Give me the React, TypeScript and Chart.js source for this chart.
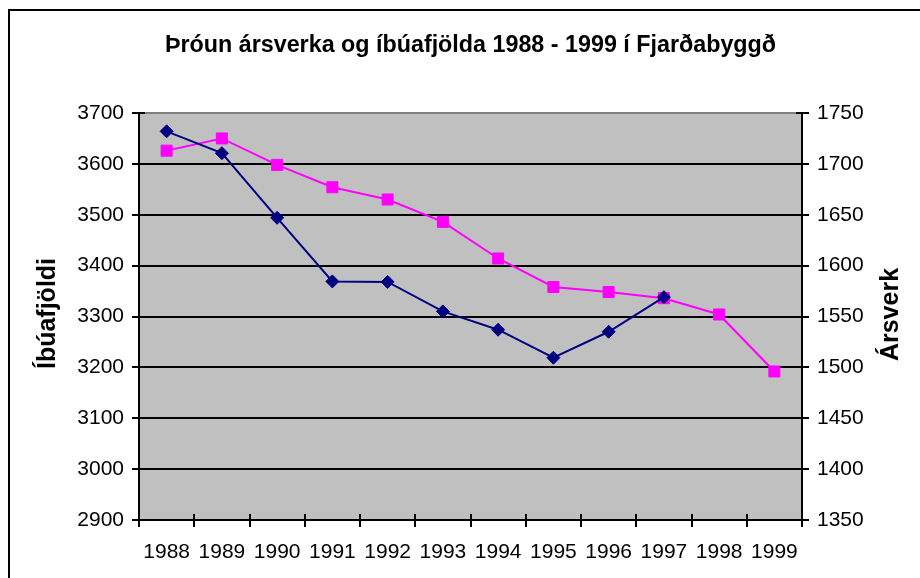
import React, { useEffect, useRef } from "react";
import { Chart, registerables } from "chart.js";

Chart.register(...registerables);

const years = ["1988", "1989", "1990", "1991", "1992", "1993", "1994", "1995", "1996", "1997", "1998", "1999"];
const ibuafjoldi: (number | null)[] = [3664, 3621, 3494, 3369, 3368, 3310, 3274, 3219, 3270, 3338, null, null];
const arsverk = [1713, 1725, 1699, 1677, 1665, 1643, 1607, 1579, 1574, 1568, 1552, 1496];
const leftAxis = { min: 2900, max: 3700, step: 100 };
const rightAxis = { min: 1350, max: 1750, step: 50 };
const chartTitle = "Þróun ársverka og íbúafjölda 1988 - 1999 í Fjarðabyggð";
const leftTitle = "Íbúafjöldi";
const rightTitle = "Ársverk";

const FONT = "'Liberation Sans', Arial, sans-serif";

const decor = {
  id: "decor",
  beforeDraw(chart: any) {
    const { ctx, chartArea: a } = chart;
    ctx.save();
    ctx.fillStyle = "#ffffff";
    ctx.fillRect(0, 0, chart.width, chart.height);
    ctx.fillStyle = "#C0C0C0";
    ctx.fillRect(a.left, a.top, a.right - a.left, a.bottom - a.top);
    ctx.strokeStyle = "#000";
    ctx.lineWidth = 2;
    ctx.beginPath();
    ctx.moveTo(9, chart.height + 5);
    ctx.lineTo(9, 10);
    ctx.lineTo(chart.width + 5, 10);
    ctx.stroke();
    ctx.restore();
  },
  beforeDatasetsDraw(chart: any) {
    const { ctx, chartArea: a, scales } = chart;
    ctx.save();
    ctx.strokeStyle = "#000";
    ctx.lineWidth = 2;
    ctx.beginPath();
    const xs = scales.x;
    const n = years.length;
    for (let i = 0; i <= n; i++) {
      let px: number;
      if (i === 0) px = a.left;
      else if (i === n) px = a.right;
      else px = (xs.getPixelForValue(i - 1) + xs.getPixelForValue(i)) / 2;
      px = Math.round(px);
      ctx.moveTo(px, a.bottom - 6);
      ctx.lineTo(px, a.bottom + 7);
    }
    scales.y.ticks.forEach((t: any) => {
      const py = Math.round(scales.y.getPixelForValue(t.value));
      ctx.moveTo(a.left - 7, py);
      ctx.lineTo(a.left + 6, py);
    });
    scales.y1.ticks.forEach((t: any) => {
      const py = Math.round(scales.y1.getPixelForValue(t.value));
      ctx.moveTo(a.right - 6, py);
      ctx.lineTo(a.right + 7, py);
    });
    ctx.stroke();
    ctx.restore();
  },
  afterDraw(chart: any) {
    const { ctx, chartArea: a } = chart;
    const cy = (a.top + a.bottom) / 2;
    ctx.save();
    ctx.fillStyle = "#000";
    ctx.textAlign = "center";
    ctx.textBaseline = "alphabetic";
    ctx.font = `bold 23.3px ${FONT}`;
    ctx.fillText(chartTitle, (a.left + a.right) / 2, 52);
    ctx.font = `bold 25px ${FONT}`;
    ctx.save();
    ctx.translate(55, cy - 3);
    ctx.rotate(-Math.PI / 2);
    ctx.fillText(leftTitle, 0, 0);
    ctx.restore();
    ctx.save();
    ctx.translate(898, cy - 2);
    ctx.rotate(-Math.PI / 2);
    ctx.fillText(rightTitle, 0, 0);
    ctx.restore();
    ctx.restore();
  },
};

const plain = (v: any) => String(v);

export default function App() {
  const ref = useRef<HTMLCanvasElement | null>(null);

  useEffect(() => {
    if (!ref.current) return;
    const chart = new Chart(ref.current, {
      type: "line",
      data: {
        labels: years,
        datasets: [
          {
            label: leftTitle,
            data: ibuafjoldi,
            yAxisID: "y",
            borderColor: "#000080",
            backgroundColor: "#000080",
            borderWidth: 2,
            pointStyle: "rectRot",
            pointRadius: 6.5,
            pointBorderWidth: 1,
            pointBackgroundColor: "#000080",
            pointBorderColor: "#000080",
            tension: 0,
          },
          {
            label: rightTitle,
            data: arsverk,
            yAxisID: "y1",
            borderColor: "#FF00FF",
            backgroundColor: "#FF00FF",
            borderWidth: 2,
            pointStyle: "rect",
            pointRadius: 7.8,
            pointBorderWidth: 1,
            pointBackgroundColor: "#FF00FF",
            pointBorderColor: "#FF00FF",
            tension: 0,
          },
        ],
      },
      options: {
        responsive: false,
        animation: false,
        events: [],
        layout: { padding: { top: 113, left: 0, right: 0, bottom: 0 } },
        plugins: {
          legend: { display: false },
          title: { display: false },
          tooltip: { enabled: false },
        },
        scales: {
          x: {
            type: "category",
            offset: true,
            grid: { display: false, drawTicks: false, offset: true },
            border: { display: true, color: "#000", width: 2 },
            ticks: {
              color: "#000",
              font: { family: FONT, size: 21 },
              padding: 20,
              maxRotation: 0,
              autoSkip: false,
            },
            afterFit: (s: any) => {
              s.height = 58;
            },
          },
          y: {
            type: "linear",
            position: "left",
            min: leftAxis.min,
            max: leftAxis.max,
            grid: {
              drawTicks: false,
              lineWidth: 2,
              color: (c: any) => (c.tick && c.tick.value === leftAxis.max ? "#808080" : "#000"),
            },
            border: { display: true, color: "#000", width: 2 },
            ticks: {
              stepSize: leftAxis.step,
              color: "#000",
              font: { family: FONT, size: 21 },
              padding: 15,
              callback: plain,
            },
            afterFit: (s: any) => {
              s.width = 139;
            },
          },
          y1: {
            type: "linear",
            position: "right",
            min: rightAxis.min,
            max: rightAxis.max,
            grid: { drawOnChartArea: false, drawTicks: false },
            border: { display: true, color: "#000", width: 2 },
            ticks: {
              stepSize: rightAxis.step,
              color: "#000",
              font: { family: FONT, size: 21 },
              padding: 15,
              callback: plain,
            },
            afterFit: (s: any) => {
              s.width = 118;
            },
          },
        },
      },
      plugins: [decor],
    });
    return () => chart.destroy();
  }, []);

  return (
    <div style={{ position: "fixed", left: 0, top: 0, width: 920, height: 578, background: "#fff" }}>
      <canvas ref={ref} width={920} height={578} style={{ display: "block", width: 920, height: 578 }} />
    </div>
  );
}
